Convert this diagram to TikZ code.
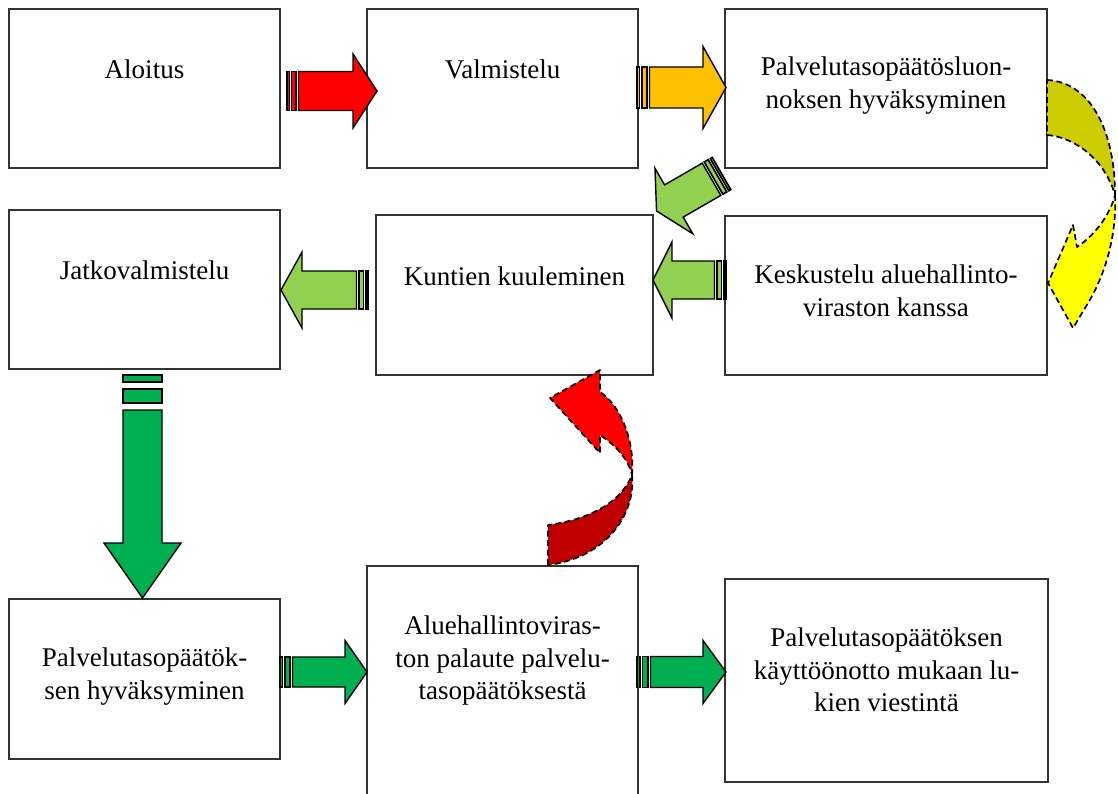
\documentclass[tikz,border=0pt]{standalone}
\usepackage{fontspec}
\setmainfont{Liberation Serif}
\usetikzlibrary{calc}
\definecolor{cRed}{HTML}{FF0000}
\definecolor{cOrange}{HTML}{FFC000}
\definecolor{cLG}{HTML}{92D050}
\definecolor{cG}{HTML}{00B050}
\definecolor{cOlive}{HTML}{CCCC00}
\definecolor{cYel}{HTML}{FFFF00}
\definecolor{cDR}{HTML}{C00000}
\tikzset{
  box/.style={draw=black!80, line width=1.6pt, fill=white, inner sep=0pt, outer sep=0pt, anchor=north west},
  txt/.style={font=\fontsize{27}{32.5}\selectfont, align=center, inner sep=0pt, anchor=north,
              execute at begin node={\rule{0pt}{20pt}}},
  arrowline/.style={draw=black, line width=1.4pt, line join=miter},
  stripeline/.style={draw=black, line width=1.6pt},
  curvearrow/.style={draw=black, line width=1.7pt, dash pattern=on 6pt off 3.5pt, line join=round}
}
% #1 fill, #2 length, #3 shaft half width, #4 head half width, #5 head length, #6 stripe unit
\newcommand\stripearrow[6]{%
  \filldraw[stripeline, fill=#1] (0,-#3) rectangle (#6,#3);
  \filldraw[stripeline, fill=#1] (2*#6,-#3) rectangle (4*#6,#3);
  \filldraw[arrowline, fill=#1] (5*#6,-#3) -- (#2-#5,-#3) -- (#2-#5,-#4) -- (#2,0)
     -- (#2-#5,#4) -- (#2-#5,#3) -- (5*#6,#3) -- cycle;
}
\begin{document}
\begin{tikzpicture}[x=1pt,y=-1pt]
\useasboundingbox (0,0) rectangle (1118,794);
\clip (0,0) rectangle (1118,794);
\fill[white] (0,0) rectangle (1118,794);

% boxes
\node[box, minimum width=271pt, minimum height=159pt] (b1) at (9,9) {};
\node[box, minimum width=271pt, minimum height=159pt] (b2) at (367,9) {};
\node[box, minimum width=322pt, minimum height=159pt] (b3) at (725,9) {};
\node[box, minimum width=271pt, minimum height=159pt] (b4) at (9,210) {};
\node[box, minimum width=277pt, minimum height=160pt] (b5) at (376,215) {};
\node[box, minimum width=322pt, minimum height=159pt] (b6) at (725,216) {};
\node[box, minimum width=271pt, minimum height=160pt] (b7) at (9,599) {};
\node[box, minimum width=271pt, minimum height=244pt] (b8) at (367,566) {};
\node[box, minimum width=323pt, minimum height=203pt] (b9) at (725,579) {};

% texts
\node[txt] (t1) at ($(b1.north)+(0,49)$) {Aloitus};
\node[txt] (t2) at ($(b2.north)+(0,49)$) {Valmistelu};
\node[txt] (t3) at ($(b3.north)+(0,48)$) {Palvelutasopäätösluon-\\noksen hyväksyminen};
\node[txt] (t4) at ($(b4.north)+(0,49)$) {Jatkovalmistelu};
\node[txt] (t5) at ($(b5.north)+(0,50)$) {Kuntien kuuleminen};
\node[txt] (t6) at ($(b6.north)+(0,49)$) {Keskustelu aluehallinto-\\viraston kanssa};
\node[txt] (t7) at ($(b7.north)+(0,49)$) {Palvelutasopäätök-\\sen hyväksyminen};
\node[txt] (t8) at ($(b8.north)+(0,50)$) {Aluehallintoviras-\\ton palaute palvelu-\\tasopäätöksestä};
\node[txt] (t9) at ($(b9.north)+(0,49)$) {Palvelutasopäätöksen\\käyttöönotto mukaan lu-\\kien viestintä};

% arrow tails
\coordinate (a1) at ($(b1.east)+(7,2.5)$);
\coordinate (a2) at ($(b2.east)+(-1,-1)$);
\coordinate (a3) at ($(b3.south west)+(-3.5,5.5)$);
\coordinate (a4) at ($(b6.west)+(1,-15.5)$);
\coordinate (a5) at ($(b5.west)+(-8,-5)$);
\coordinate (a6) at ($(b4.south)+(-2,6)$);
\coordinate (a7) at ($(b7.east)+(0,-7)$);
\coordinate (a8) at ($(b8.east)+(-1,-16)$);

\begin{scope}[shift={(a1)}]\stripearrow{cRed}{90}{19.5}{37}{24}{2.3}\end{scope}
\begin{scope}[shift={(a2)}]\stripearrow{cOrange}{89}{20.5}{41}{23}{2.5}\end{scope}
\begin{scope}[shift={(a3)}, rotate=210]\stripearrow{cLG}{75}{18.6}{37.8}{20}{2.3}\end{scope}
\begin{scope}[shift={(a4)}, rotate=180]\stripearrow{cLG}{73}{19}{38}{19}{2.3}\end{scope}
\begin{scope}[shift={(a5)}, rotate=180]\stripearrow{cLG}{87}{19}{38}{21}{2.3}\end{scope}
\begin{scope}[shift={(a6)}, rotate=-90]\stripearrow{cG}{223}{19.5}{38.5}{55}{7}\end{scope}
\begin{scope}[shift={(a7)}]\stripearrow{cG}{87}{15}{31.5}{22}{2.5}\end{scope}
\begin{scope}[shift={(a8)}]\stripearrow{cG}{89}{15.5}{31.5}{23}{2.7}\end{scope}

% curved yellow arrow (right side)
\filldraw[curvearrow, fill=cOlive] (1047,80) .. controls (1090,82) and (1115,130) .. (1115,195)
   .. controls (1105,160) and (1075,137) .. (1047,135) -- cycle;
\filldraw[curvearrow, fill=cYel] (1115,195) .. controls (1117,235) and (1105,275) .. (1088,303)
   -- (1073,328) -- (1048,283) -- (1073,225) -- (1077,247)
   .. controls (1095,235) and (1110,215) .. (1115,195) -- cycle;

% curved red arrow (middle)
\filldraw[curvearrow, fill=cDR] (548,565) -- (548,525) .. controls (585,520) and (620,505) .. (632,475)
   .. controls (636,515) and (605,558) .. (548,565) -- cycle;
\filldraw[curvearrow, fill=cRed] (632,475) .. controls (635,440) and (620,405) .. (600,392)
   -- (600,370) -- (550,398) -- (600,453) -- (600,435)
   .. controls (615,445) and (628,458) .. (632,475) -- cycle;
\end{tikzpicture}
\end{document}
